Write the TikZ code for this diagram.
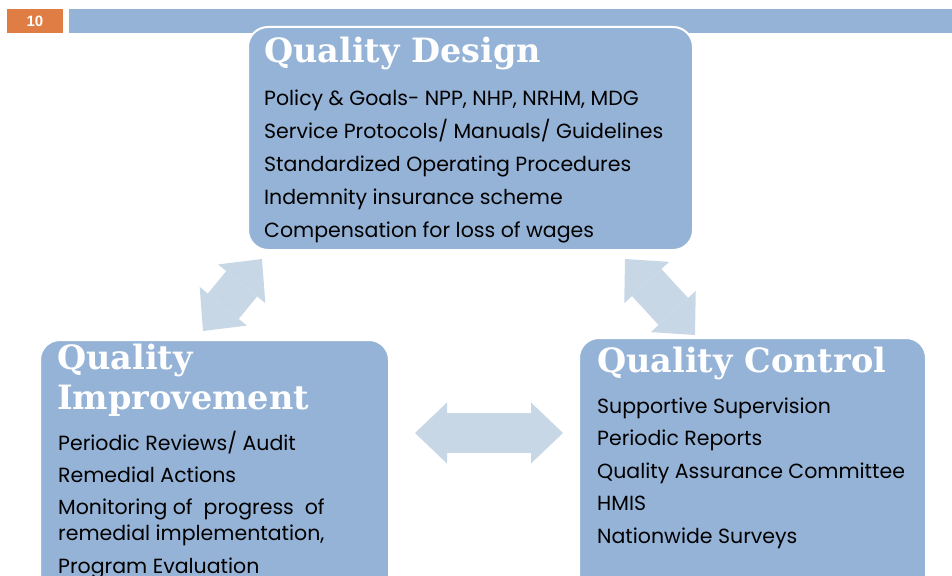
\documentclass[tikz,border=0pt]{standalone}
\usepackage{fontspec}
\setmainfont{Poppins}
\newfontfamily\headfont{DejaVu Serif}
\newfontfamily\numfont{Liberation Sans}
\usetikzlibrary{arrows.meta,positioning}
\definecolor{boxblue}{RGB}{149,179,215}
\definecolor{linkblue}{RGB}{200,215,230}
\definecolor{slideorange}{RGB}{224,125,68}
\tikzset{
box/.style = {rectangle, rounded corners=20pt, fill=boxblue, draw=white, line width=2pt, minimum width = #1},
box/.default = 350pt, % width of the rounded panel
head/.style = {anchor=base west, inner sep=0pt, text=white, font=\headfont\bfseries\fontsize{33.5}{40}\selectfont},
item/.style = {anchor=base west, inner sep=0pt, font=\fontsize{20.5}{24}\selectfont},
bigtip/.tip = {Triangle[width=61pt, length=32pt, line width=0pt]},
link/.style = {draw=linkblue, line width=40pt, bigtip-bigtip},
}

\begin{document}
\begin{tikzpicture}[x=1pt, y=-1pt]
    \useasboundingbox (0,0) rectangle (952,575);
    % slide header
    \node[fill=slideorange, minimum width=56pt, minimum height=24pt, inner sep=0pt, text=white, font=\numfont\bfseries\fontsize{15}{17}\selectfont] (pagenum) at (35,21) {10};
    \node[fill=boxblue, minimum width=883pt, minimum height=24pt, inner sep=0pt] (bar) at (510.5,21) {};

    % the three panels
    \node[box=445pt, minimum height=223pt] (design) at (470.5,138.5) {};
    \node[box=349pt, minimum height=260pt] (improve) at (214.5,470) {};
    \node[box=347pt, minimum height=262pt] (control) at (752.5,469) {};

    \node[head] (designhead) at (264,63) {Quality Design};
    \node[head] (improvehead) at (57,369) {Quality};
    \node[head] (improvehead2) at (57,409) {Improvement};
    \node[head] (controlhead) at (597,372) {Quality Control};

    \foreach \txt [count=\i from 0] in {{Policy \& Goals- NPP, NHP, NRHM, MDG}, {Service Protocols/ Manuals/ Guidelines}, {Standardized Operating Procedures}, {Indemnity insurance scheme}, {Compensation for loss of wages}}
        \node[item] (design\i) at (264, 106+32.75*\i) {\txt};

    \foreach \txt/\y [count=\i from 0] in {{Periodic Reviews/ Audit}/450, {Remedial Actions}/482, {Monitoring of\ \ progress\ \ of}/514, {remedial implementation,}/540, {Program Evaluation}/573}
        \node[item] (improve\i) at (58,\y) {\txt};

    \foreach \txt [count=\i from 0] in {{Supportive Supervision}, {Periodic Reports}, {Quality Assurance Committee}, {HMIS}, {Nationwide Surveys}}
        \node[item] (control\i) at (597, 413+32.5*\i) {\txt};

    % block arrows between the panels
    \coordinate (dl) at (262,259);
    \coordinate (il) at (203,331);
    \coordinate (dr) at (625,259);
    \coordinate (cr) at (695,335);
    \coordinate (ih) at (415,433);
    \coordinate (ch) at (563,433);
    \draw[link] (il) -- (dl);
    \draw[link] (dr) -- (cr);
    \draw[link] (ih) -- (ch);
\end{tikzpicture}
\end{document}
